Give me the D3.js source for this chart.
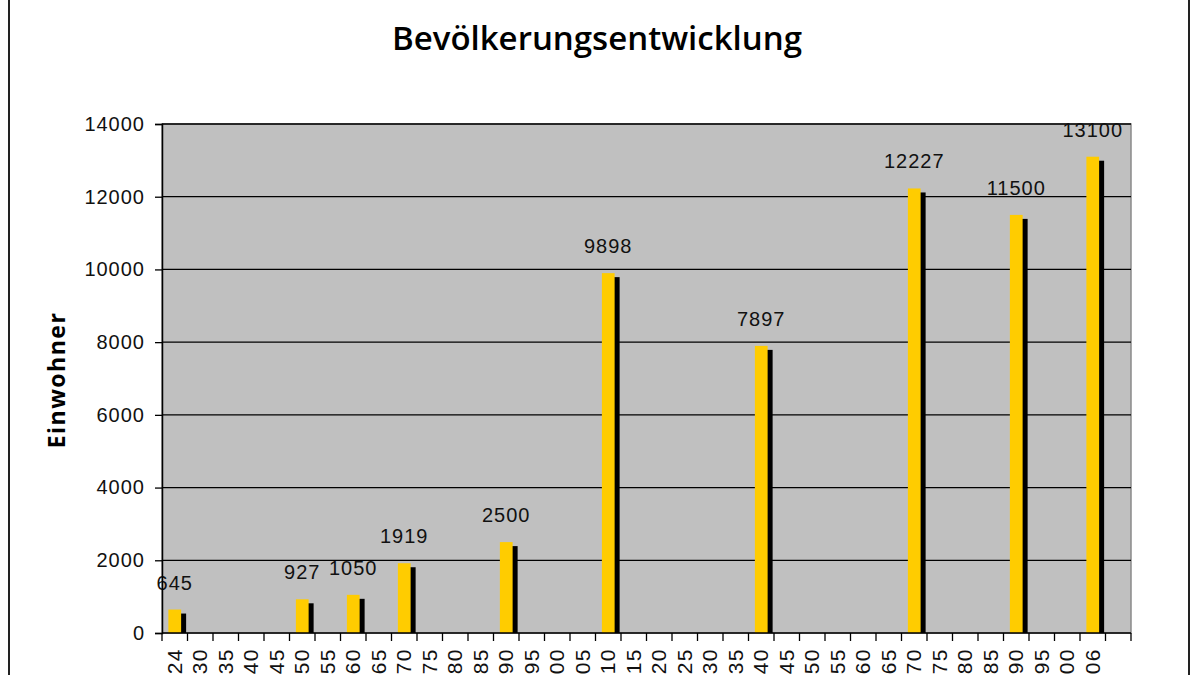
<!DOCTYPE html>
<html><head><meta charset="utf-8">
<script src="https://cdn.jsdelivr.net/npm/d3@7/dist/d3.min.js"></script>
<style>
html,body{margin:0;padding:0;background:#fff;}
svg{display:block;}
</style></head>
<body><svg id="c" width="1200" height="675"></svg>
<script>
const years = ["1824","1830","1835","1840","1845","1850","1855","1860","1865","1870","1875","1880","1885","1890","1895","1900","1905","1910","1915","1920","1925","1930","1935","1940","1945","1950","1955","1960","1965","1970","1975","1980","1985","1990","1995","2000","2006",""];
const values = [645,null,null,null,null,927,null,1050,null,1919,null,null,null,2500,null,null,null,9898,null,null,null,null,null,7897,null,null,null,null,null,12227,null,null,null,11500,null,null,13100,null];
const yTicks = [0,2000,4000,6000,8000,10000,12000,14000];
const title = "Bevölkerungsentwicklung";
const yTitle = "Einwohner";

const svg = d3.select("#c");
const m = {l:162, r:1131, t:124, b:633};
const x = d3.scaleBand().domain(years.map((d,i)=>i)).range([m.l, m.r]).padding(0);
const y = d3.scaleLinear().domain([0,14000]).range([m.b, m.t]);

// outer frame
svg.append("rect").attr("x",9).attr("y",-5).attr("width",1180).attr("height",700)
  .attr("fill","#fff").attr("stroke","#222").attr("stroke-width",2);

// plot bg
svg.append("rect").attr("x",m.l).attr("y",m.t).attr("width",m.r-m.l).attr("height",m.b-m.t)
  .attr("fill","#c0c0c0").attr("stroke","#8a8a8a").attr("stroke-width",1.5);

// gridlines
svg.append("g").selectAll("line").data(yTicks.filter(d=>d>0)).join("line")
  .attr("x1",m.l).attr("x2",m.r).attr("y1",d=>y(d)).attr("y2",d=>y(d))
  .attr("stroke","#000").attr("stroke-width",1.3);

const bw = x.bandwidth();
const data = values.map((v,i)=>({i,v})).filter(d=>d.v!=null);

// shadow bars
svg.append("g").selectAll("rect").data(data).join("rect")
  .attr("x",d=>x(d.i)+bw*0.25+5).attr("width",bw*0.5)
  .attr("y",d=>y(d.v)+4).attr("height",d=>m.b-y(d.v)-4)
  .attr("fill","#000");
// yellow bars
svg.append("g").selectAll("rect").data(data).join("rect")
  .attr("x",d=>x(d.i)+bw*0.25).attr("width",bw*0.5)
  .attr("y",d=>y(d.v)).attr("height",d=>m.b-y(d.v))
  .attr("fill","#ffcc00");

// value labels
svg.append("g").selectAll("text").data(data).join("text")
  .attr("x",d=>x(d.i)+bw*0.5).attr("y",d=>y(d.v)-20)
  .attr("text-anchor","middle")
  .style("font-family","'Liberation Sans', Arial, sans-serif").style("font-size","20px")
  .style("letter-spacing","1px").attr("fill","#111")
  .text(d=>d.v);

// y axis
const yAxis = d3.axisLeft(y).tickValues(yTicks).tickSize(7).tickPadding(10).tickFormat(d=>d);
const ga = svg.append("g").attr("transform",`translate(${m.l},0)`).call(yAxis);
ga.select(".domain").attr("stroke","#000").attr("stroke-width",1.5);
ga.selectAll(".tick line").attr("stroke","#000").attr("stroke-width",1.3);
ga.selectAll("text").style("font-family","'Liberation Sans', Arial, sans-serif").style("font-size","20px")
  .style("letter-spacing","1px").attr("fill","#111");

// x axis
const xb = svg.append("g").attr("transform",`translate(0,${m.b})`);
xb.append("line").attr("x1",m.l).attr("x2",m.r).attr("y1",0).attr("y2",0).attr("stroke","#000").attr("stroke-width",1.5);
const edges = d3.range(years.length+1).map(i=> i<years.length ? x(i) : m.r);
xb.selectAll("line.t").data(edges).join("line").attr("class","t")
  .attr("x1",d=>d).attr("x2",d=>d).attr("y1",0).attr("y2",8).attr("stroke","#000").attr("stroke-width",1.3);
xb.selectAll("text").data(years).join("text")
  .attr("transform",(d,i)=>`translate(${x(i)+bw/2+7},15) rotate(-90)`)
  .attr("text-anchor","end")
  .style("font-family","'Liberation Sans', Arial, sans-serif").style("font-size","21px")
  .style("letter-spacing","1.5px").attr("fill","#111")
  .text(d=>d);

// title
svg.append("text").attr("x",597).attr("y",50).attr("text-anchor","middle")
  .style("font-family","'Open Sans', sans-serif").style("font-weight","600").style("font-size","33px")
  .attr("fill","#000").text(title);

// y title
svg.append("text").attr("transform","translate(65,380) rotate(-90)").attr("text-anchor","middle")
  .style("font-family","'Open Sans', sans-serif").style("font-weight","700").style("font-size","23px")
  .style("letter-spacing","1.5px").attr("fill","#000").text(yTitle);
</script></body></html>
